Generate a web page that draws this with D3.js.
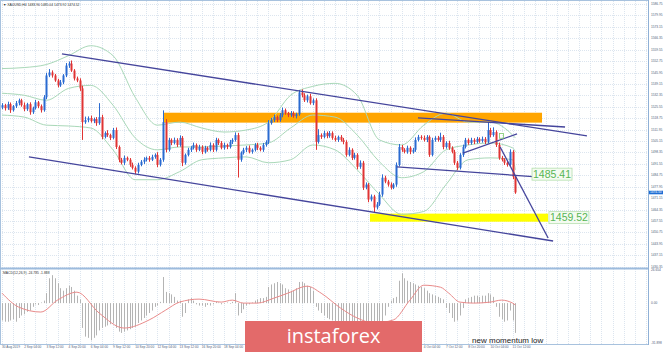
<!DOCTYPE html>
<html lang="en">
<head>
<meta charset="UTF-8">
<title>XAUUSD H4</title>
<script src="https://cdn.jsdelivr.net/npm/d3@7"></script>
<style>
  body { margin: 0; background: #fff; }
  svg { display: block; font-family: "Liberation Sans", Arial, sans-serif; }
</style>
</head>
<body>
<svg id="chart" width="665" height="352"></svg>
<script>
// ---- data ----
const firstOpen = 1525.0;
const closes = [
  1526.5,1524.7,1527.1,1523.5,1525.9,1527.7,1529.4,1526.5,1524.1,1527.1,
  1522.3,1524.7,1528.2,1525.9,1523.5,1531.2,1544.2,1546.0,1544.2,1541.2,
  1538.3,1540.1,1544.2,1550.1,1551.3,1547.1,1542.4,1541.2,1536.5,1516.4,
  1517.6,1518.8,1517.0,1518.2,1515.8,1519.4,1507.6,1509.9,1508.7,1507.0,
  1511.7,1501.6,1494.0,1492.2,1495.1,1494.0,1491.0,1489.2,1486.9,1491.0,
  1492.8,1494.0,1495.1,1494.0,1495.7,1496.9,1491.0,1494.0,1516.4,1499.9,
  1505.8,1504.0,1505.8,1502.8,1507.0,1492.2,1496.9,1499.9,1501.1,1502.8,
  1499.9,1501.6,1498.7,1501.1,1499.9,1502.8,1499.9,1505.8,1504.0,1501.1,
  1502.8,1501.6,1504.6,1505.8,1508.7,1494.0,1498.1,1499.9,1501.1,1498.7,
  1499.9,1502.8,1501.1,1499.9,1502.8,1504.6,1515.8,1517.6,1519.4,1517.6,
  1520.6,1523.5,1521.7,1520.6,1521.7,1520.0,1521.1,1534.1,1532.4,1529.4,
  1531.8,1527.7,1529.4,1504.6,1508.7,1507.6,1509.9,1508.1,1509.9,1507.0,
  1505.8,1507.6,1505.8,1504.6,1496.9,1499.9,1495.1,1496.9,1489.8,1492.2,
  1477.4,1479.2,1470.3,1472.1,1465.6,1467.4,1473.3,1483.3,1481.0,1479.2,
  1477.4,1479.2,1491.0,1501.6,1499.9,1498.7,1501.1,1498.7,1499.9,1505.8,
  1507.6,1507.0,1505.8,1507.6,1496.9,1505.8,1507.0,1505.8,1507.6,1501.6,
  1504.0,1501.1,1498.7,1492.2,1489.2,1496.9,1501.6,1505.8,1504.0,1505.8,
  1504.6,1506.4,1505.2,1506.4,1504.6,1511.7,1508.7,1510.5,1502.8,1495.1,
  1494.0,1492.2,1491.0,1498.7,1483.9,1474.5
];
const wickUp = [
  1.2,0.8,1.5,1.0,0.7,1.3,1.0,0.9,1.6,0.8, 1.1,0.9,1.4,0.8,1.0,1.3,1.6,2.0,1.2,0.9,
  1.0,1.4,0.8,1.5,1.2,1.8,0.9,1.1,1.3,1.6, 2.1,1.0,1.5,0.9,1.2,8.3,1.4,1.0,1.7,0.8,
  1.2,1.5,0.9,1.1,1.4,0.8,1.0,1.3,0.9,1.2, 1.0,1.5,0.8,1.1,1.3,0.9,1.6,1.0,7.0,1.8,
  1.2,0.9,1.4,1.0,1.5,1.1,0.8,1.2,1.0,1.4, 0.9,1.3,1.0,1.2,0.8,1.5,1.0,1.3,0.9,1.1,
  1.4,0.8,1.2,1.0,1.6,1.3,0.9,1.2,1.0,1.4, 0.8,1.1,1.3,0.9,1.2,1.0,1.8,1.3,1.5,0.9,
  1.2,1.6,1.0,0.8,1.3,1.1,0.9,1.4,1.8,1.2, 1.0,1.5,1.1,1.2,3.5,1.0,1.4,0.9,1.2,1.0,
  1.3,0.8,1.1,1.2,1.0,1.5,0.9,1.2,1.0,1.4, 1.1,1.3,0.9,1.2,1.0,1.4,1.6,2.0,1.2,1.0,
  1.3,0.9,1.4,1.8,1.2,1.0,1.3,0.9,1.1,1.5, 1.2,1.0,1.4,1.1,0.9,1.3,1.0,1.2,2.5,1.1,
  1.0,1.3,0.9,1.2,1.1,1.0,1.4,1.2,0.9,1.3, 1.0,1.2,0.9,1.4,1.1,4.7,1.2,2.8,1.0,1.4,
  1.1,0.9,1.2,1.5,1.0,0.8
];
const wickDn = [
  0.9,1.4,1.0,1.6,0.8,1.1,1.3,0.9,1.2,1.0, 1.5,1.0,0.8,1.2,1.4,0.9,1.1,1.0,1.3,0.8,
  1.2,0.9,1.1,1.0,1.4,0.8,1.2,1.0,1.5,10.6, 1.0,1.3,0.9,1.2,1.6,1.0,1.4,0.9,1.1,1.3,
  0.8,1.2,1.5,1.0,1.3,0.9,1.2,1.0,1.6,1.1, 0.9,1.3,1.0,1.2,0.8,1.1,1.4,1.0,1.2,1.5,
  1.0,1.3,0.9,1.2,1.0,2.0,1.1,0.9,1.3,1.0, 1.2,0.8,1.4,1.0,1.1,0.9,1.3,1.0,1.2,0.9,
  1.1,1.3,0.9,1.2,1.0,10.6,1.2,1.0,1.3,0.9, 1.1,1.0,1.4,0.9,1.2,1.0,1.3,0.9,1.1,1.2,
  1.0,1.3,0.9,1.2,1.1,1.0,1.4,0.9,1.2,1.0, 1.3,0.9,1.1,4.7,1.0,1.2,0.9,1.3,1.0,1.1,
  0.9,1.2,1.0,1.4,1.1,0.9,1.3,1.0,1.5,1.2, 1.4,1.0,1.6,1.1,3.0,1.2,0.9,1.3,1.0,1.2,
  1.1,0.9,1.3,1.0,1.2,0.9,1.1,1.4,1.0,1.2, 0.9,1.1,1.0,1.3,1.2,0.9,1.1,1.0,1.2,1.4,
  1.0,1.2,0.9,1.3,1.5,1.0,1.2,0.9,1.1,1.0, 1.3,0.9,1.1,1.0,1.2,0.9,1.3,1.0,1.2,1.1,
  1.0,1.3,1.1,0.9,1.4,0.8
];

// Bollinger bands, sampled every 8 bars
const bandBars  = [0,8,16,24,32,40,48,56,64,72,80,88,96,104,112,120,128,136,144,152,160,168,176,184,185];
const bandUpper = [1548.3,1548.9,1550.7,1556.0,1561.9,1556.0,1531.2,1514.6,1516.4,1512.9,1510.5,1511.7,1516.4,1532.4,1537.7,1539.5,1532.4,1505.8,1502.8,1514.6,1521.7,1516.4,1516.4,1508.7,1507.0];
const bandMid   = [1533.6,1532.4,1529.4,1536.5,1538.3,1526.5,1507.0,1499.9,1501.6,1501.6,1502.2,1502.8,1504.0,1512.9,1520.6,1519.4,1508.7,1492.8,1483.3,1486.9,1499.9,1502.8,1504.0,1501.1,1498.7];
const bandLower = [1520.6,1519.4,1514.6,1514.1,1512.9,1499.9,1482.1,1482.1,1486.9,1494.0,1495.1,1495.7,1492.2,1494.0,1502.8,1499.9,1488.0,1473.3,1461.5,1463.2,1479.2,1494.0,1495.1,1494.0,1488.0];

// MACD histogram per bar and signal line
const macdHist = [
  -14,-15,-15,-14,-13,-15,-12,-10,-9,-7, -6,-3,-1,-1.5,0.5,2,8,20,22.5,20,
  16,12,10,12,14,13,10,6,3,-20, -27,-28,-30,-28,-26,-22,-20,-19,-18,-17,
  -16,-20,-23,-24,-23,-22,-21,-20,-19,-16, -14,-12,-10,-8,-6,-3,-2,1,21,9,
  8,7,5,2,2,-11,-8,3,4,2, -1,-2,-2,-3,-1.5,-2,-1,1,0.5,-1,
  -0.5,0.5,-0.5,1,8,-10,-8,-5,-2,-1, 0.5,2,3,4,4,5,13,15,16,17,
  16,15,12,11,10,10,12,17,17,16, 14,13,10,-3,-6,-8,-10,-12,-13,-14,
  -15,-16,-17,-18,-20,-21,-22,-23,-25,-26, -28,-29,-30,-30,-29,-27,-22,-17,-10,-3,
  2,4,5,18,24,20,18,17,16,15, 14,13,12,10,8,7,6,5,4,3,
  -4,-8,-12,-15,-14,-10,-4,3,4,5, 6,6,5,6,6,8,7,5,-3,-11,
  -13,-15,-14,-6,-14,-24
];
const sigBars = [0,6,14,20,27,35,44,53,59,64,71,79,83,87,92,98,103,110,115,122,128,134,141,147,152,158,161,165,170,176,180,184,185];
const sigVals = [8,-3.2,-7.2,2.4,8.8,-8,-20.1,-13.6,-5.6,0.8,3.2,0.8,2.4,0,0,4,8,13.6,8,-4,-12,-16,-13.6,2.4,14.4,12.8,8,0.8,0,0.8,2.4,0,-1.6];

// drawn objects: [bar1, price1, bar2, price2]
const trendLines = [
  [21.6,1557.0,210.8,1508.2],
  [149.9,1518.9,202.9,1513.5],
  [166.1,1498.0,185.6,1509.4],
  [9.7,1495.7,198.6,1445.6],
  [142.3,1489.7,193.9,1483.7],
  [179.5,1501.6,196.8,1447.4]
];
const zoneBars   = [[58.4,194.6],[132.6,196.8]];
const zonePrices = [[1516.1,1522.0],[1457.1,1461.9]];
const zoneColors = ["#ffa500","#ffff00"];
const levelValues = [1485.41, 1459.52];
const levelBars   = [191.0, 197.1];

const priceTicks = [1586.75,1579.95,1573.15,1566.35,1559.55,1552.75,1545.95,1539.15,1532.35,1525.55,1518.75,1511.95,1505.15,1498.35,1491.55,1484.75,1477.95,1471.15,1464.35,1457.55,1450.75,1443.95,1437.15,1430.35];
const timeLabels = ["30 Aug 2019","2 Sep 04:00","3 Sep 12:00","4 Sep 20:00","6 Sep 04:00","9 Sep 12:00","10 Sep 20:00","12 Sep 04:00","13 Sep 12:00","16 Sep 20:00","18 Sep 04:00","19 Sep 12:00","20 Sep 20:00","24 Sep 04:00","25 Sep 12:00","26 Sep 20:00","30 Sep 04:00","1 Oct 12:00","2 Oct 20:00","4 Oct 04:00","7 Oct 12:00","8 Oct 20:00","10 Oct 04:00","11 Oct 12:00"];
const macdTicks = [26.654, 0, -31.898];

// ---- layout ----
const W = 665, H = 352;
const plotR = 648;
const mainTop = 1, mainBot = 267;
const subTop = 270, subBot = 344;
const barStep = 2.775;
const banner = { x: 245, y: 321, w: 177, h: 31 };

const svg = d3.select("#chart");
const x = d3.scaleLinear().domain([0, 1]).range([2, 2 + barStep]);
const y = d3.scaleLinear().domain([1437.15, 1586.75]).range([255.2, 4]);
const yM = d3.scaleLinear().domain([-31.898, 26.654]).range([342.7, 270]);

svg.append("rect").attr("width", W).attr("height", H).attr("fill", "#fff");

const defs = svg.append("defs");
defs.append("clipPath").attr("id", "mainClip")
  .append("rect").attr("x", 0).attr("y", mainTop).attr("width", plotR).attr("height", mainBot - mainTop);
defs.append("clipPath").attr("id", "subClip")
  .append("rect").attr("x", 0).attr("y", subTop).attr("width", plotR).attr("height", subBot - subTop);

// grid
const grid = svg.append("g").attr("stroke", "#d3deeb").attr("stroke-width", 0.8).attr("stroke-dasharray", "1,1");
grid.selectAll("line.h").data(priceTicks.filter(p => y(p) < mainBot)).enter().append("line")
  .attr("x1", 0).attr("x2", plotR).attr("y1", d => Math.round(y(d)) + 0.5).attr("y2", d => Math.round(y(d)) + 0.5);
grid.selectAll("line.v").data(d3.range(0, 234, 4)).enter().append("line")
  .attr("x1", d => Math.round(x(d)) + 0.5).attr("x2", d => Math.round(x(d)) + 0.5)
  .attr("y1", mainTop).attr("y2", subBot);

const main = svg.append("g").attr("clip-path", "url(#mainClip)");

// zones
main.selectAll("rect.zone").data(zoneBars).enter().append("rect")
  .attr("x", d => x(d[0])).attr("width", d => x(d[1]) - x(d[0]))
  .attr("y", (d, i) => y(zonePrices[i][1]))
  .attr("height", (d, i) => y(zonePrices[i][0]) - y(zonePrices[i][1]))
  .attr("fill", (d, i) => zoneColors[i]);

// bollinger
const bandLine = d3.line().curve(d3.curveMonotoneX);
[bandUpper, bandMid, bandLower].forEach(arr => {
  main.append("path")
    .attr("d", bandLine(bandBars.map((b, i) => [x(b), y(arr[i])])))
    .attr("fill", "none").attr("stroke", "#a9d8b8").attr("stroke-width", 1);
});

// candles
const candles = closes.map((c, i) => {
  const o = i === 0 ? firstOpen : closes[i - 1];
  return { i, o, c, h: Math.max(o, c) + wickUp[i], l: Math.min(o, c) - wickDn[i] };
});
const cg = main.append("g");
cg.selectAll("line").data(candles).enter().append("line")
  .attr("x1", d => Math.round(x(d.i)) + 0.5).attr("x2", d => Math.round(x(d.i)) + 0.5)
  .attr("y1", d => y(d.h)).attr("y2", d => y(d.l))
  .attr("stroke", d => d.c >= d.o ? "#2a6bd1" : "#e03434").attr("stroke-width", 1);
cg.selectAll("rect").data(candles).enter().append("rect")
  .attr("x", d => Math.round(x(d.i)) - 0.5).attr("width", 2)
  .attr("y", d => y(Math.max(d.o, d.c)))
  .attr("height", d => Math.max(1, Math.abs(y(d.o) - y(d.c))))
  .attr("fill", d => d.c >= d.o ? "#2a6bd1" : "#e03434");

// trend lines
main.selectAll("line.tl").data(trendLines).enter().append("line")
  .attr("x1", d => x(d[0])).attr("y1", d => y(d[1]))
  .attr("x2", d => x(d[2])).attr("y2", d => y(d[3]))
  .attr("stroke", "#45459c").attr("stroke-width", 1.3);

// small green marker
main.append("rect").attr("x", x(179.3)).attr("y", y(1509.6)).attr("width", 4).attr("height", y(1506.8) - y(1509.6))
  .attr("fill", "none").attr("stroke", "#7cc96c").attr("stroke-width", 0.8);

// level labels
levelValues.forEach((v, i) => {
  const g = svg.append("g");
  const x0 = x(levelBars[i]);
  g.append("rect").attr("x", x0).attr("y", y(v) - 6).attr("width", 40).attr("height", 12)
    .attr("fill", "#f4fbf1").attr("stroke", "#b5dfae").attr("stroke-width", 0.8);
  g.append("text").attr("x", x0 + 20).attr("y", y(v) + 3.8).attr("text-anchor", "middle")
    .attr("font-size", 10.5).attr("fill", "#56b553").text(v.toFixed(2));
});

// MACD panel
const sub = svg.append("g").attr("clip-path", "url(#subClip)");
sub.selectAll("line").data(macdHist).enter().append("line")
  .attr("x1", (d, i) => Math.round(x(i)) + 0.5).attr("x2", (d, i) => Math.round(x(i)) + 0.5)
  .attr("y1", yM(0)).attr("y2", d => yM(d))
  .attr("stroke", "#b4b4b4").attr("stroke-width", 1);
sub.append("path")
  .attr("d", d3.line().curve(d3.curveMonotoneX)(sigBars.map((b, i) => [x(b), yM(sigVals[i])])))
  .attr("fill", "none").attr("stroke", "#e98a8a").attr("stroke-width", 1);

// frame
const frame = svg.append("g").attr("fill", "none");
frame.append("line").attr("x1", 0).attr("x2", plotR).attr("y1", 0.5).attr("y2", 0.5).attr("stroke", "#a8c2de");
frame.append("line").attr("x1", 0.5).attr("x2", 0.5).attr("y1", 0).attr("y2", subBot).attr("stroke", "#a8c2de");
frame.append("line").attr("x1", plotR + 0.5).attr("x2", plotR + 0.5).attr("y1", 0).attr("y2", subBot + 1).attr("stroke", "#8fb0d6");
frame.append("line").attr("x1", 0).attr("x2", plotR).attr("y1", 268.5).attr("y2", 268.5).attr("stroke", "#9dbbdd").attr("stroke-width", 2);
frame.append("line").attr("x1", 0).attr("x2", plotR).attr("y1", subBot + 0.5).attr("y2", subBot + 0.5).attr("stroke", "#a8c2de");

// right price axis
const axisTxt = svg.append("g").attr("font-size", 3.2).attr("fill", "#50607a");
axisTxt.selectAll("text.p").data(priceTicks).enter().append("text")
  .attr("x", plotR + 3).attr("y", d => y(d) + 1).text(d => d.toFixed(2));
axisTxt.selectAll("text.m").data(macdTicks).enter().append("text")
  .attr("x", plotR + 3).attr("y", d => yM(d) + 1).text(d => d === 0 ? "0.00" : d.toFixed(3));
const lastC = closes[closes.length - 1];
svg.append("rect").attr("x", plotR + 1).attr("y", y(lastC) - 1.8).attr("width", 14).attr("height", 3.6).attr("fill", "#1f6ed4");
svg.append("text").attr("x", plotR + 2).attr("y", y(lastC) + 1).attr("font-size", 3.2).attr("fill", "#fff").text(lastC.toFixed(2));

// time axis (labels under the watermark banner are hidden, as in the screenshot)
const timeData = timeLabels.map((t, i) => ({ t, xp: x(i * 8) }))
  .filter(d => d.xp + 18 < banner.x || d.xp > banner.x + banner.w);
axisTxt.selectAll("text.t").data(timeData).enter().append("text")
  .attr("x", d => d.xp).attr("y", 348).text(d => d.t);

// headers
svg.append("text").attr("x", 3).attr("y", 5.5).attr("font-size", 3.4).attr("fill", "#333")
  .text("\u25BC XAUUSD,H4  1483.90 1485.04 1473.92 1474.52");
svg.append("text").attr("x", 3).attr("y", 274).attr("font-size", 3.4).attr("fill", "#333")
  .text("MACD(12,26,9) -24.785 -1.888");

// note
svg.append("text").attr("x", x(169.4)).attr("y", 343).attr("font-size", 8).attr("fill", "#222")
  .text("new momentum low");

// watermark banner
svg.append("rect").attr("x", banner.x).attr("y", banner.y).attr("width", banner.w).attr("height", banner.h).attr("fill", "#e36a6a");
svg.append("text").attr("x", banner.x + banner.w / 2).attr("y", 343).attr("text-anchor", "middle")
  .attr("font-family", "'Open Sans', sans-serif").attr("font-size", 20).attr("fill", "#fff")
  .text("instaforex");
</script>
</body>
</html>
